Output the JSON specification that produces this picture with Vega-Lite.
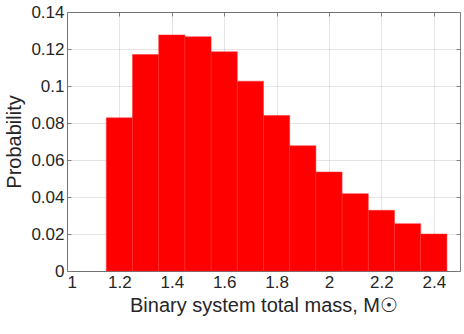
{
  "$schema": "https://vega.github.io/schema/vega-lite/v6.json",
  "width": 393,
  "height": 259,
  "autosize": "none",
  "padding": {"left": 67, "top": 12, "right": 4, "bottom": 63},
  "background": "white",
  "config": {
    "view": {"stroke": "#7f7f7f", "strokeWidth": 1},
    "font": "Liberation Sans",
    "axis": {
      "labelFont": "Liberation Sans",
      "titleFont": "Liberation Sans",
      "labelFontSize": 17,
      "titleFontSize": 20,
      "labelColor": "#262626",
      "titleColor": "#262626",
      "titleFontWeight": "normal",
      "domain": false,
      "tickColor": "#7f7f7f",
      "tickSize": -4,
      "gridColor": "#000000",
      "gridOpacity": 0.1,
      "gridWidth": 1,
      "zindex": 1
    }
  },
  "data": {
    "values": [
      {"lo": 1.15, "hi": 1.25, "p": 0.0828},
      {"lo": 1.25, "hi": 1.35, "p": 0.1170},
      {"lo": 1.35, "hi": 1.45, "p": 0.1276},
      {"lo": 1.45, "hi": 1.55, "p": 0.1266},
      {"lo": 1.55, "hi": 1.65, "p": 0.1185},
      {"lo": 1.65, "hi": 1.75, "p": 0.1026},
      {"lo": 1.75, "hi": 1.85, "p": 0.0840},
      {"lo": 1.85, "hi": 1.95, "p": 0.0677},
      {"lo": 1.95, "hi": 2.05, "p": 0.0535},
      {"lo": 2.05, "hi": 2.15, "p": 0.0418},
      {"lo": 2.15, "hi": 2.25, "p": 0.0328},
      {"lo": 2.25, "hi": 2.35, "p": 0.0256},
      {"lo": 2.35, "hi": 2.45, "p": 0.0200}
    ]
  },
  "layer": [
    {
      "mark": {"type": "bar", "color": "#ff0000", "stroke": "#ff3030", "strokeWidth": 0.5},
      "encoding": {
        "x": {
          "field": "lo", "type": "quantitative",
          "scale": {"domain": [1, 2.5], "nice": false, "zero": false},
          "axis": {"values": [1, 1.2, 1.4, 1.6, 1.8, 2, 2.2, 2.4], "format": "~g", "title": "Binary system total mass, M☉", "labelPadding": 7, "titlePadding": 5, "orient": "bottom"}
        },
        "x2": {"field": "hi"},
        "y": {
          "field": "p", "type": "quantitative",
          "scale": {"domain": [0, 0.14], "nice": false},
          "axis": {"values": [0, 0.02, 0.04, 0.06, 0.08, 0.1, 0.12, 0.14], "format": "~g", "title": "Probability", "labelPadding": 7, "titlePadding": 6, "orient": "left"}
        },
        "y2": {"datum": 0}
      }
    },
    {
      "mark": {"type": "bar", "opacity": 0},
      "encoding": {
        "x": {
          "field": "lo", "type": "quantitative",
          "scale": {"domain": [1, 2.5], "nice": false, "zero": false},
          "axis": {"values": [1, 1.2, 1.4, 1.6, 1.8, 2, 2.2, 2.4], "labels": false, "title": null, "grid": false, "orient": "top"}
        },
        "x2": {"field": "hi"},
        "y": {
          "field": "p", "type": "quantitative",
          "scale": {"domain": [0, 0.14], "nice": false},
          "axis": {"values": [0, 0.02, 0.04, 0.06, 0.08, 0.1, 0.12, 0.14], "labels": false, "title": null, "grid": false, "orient": "right"}
        },
        "y2": {"datum": 0}
      }
    }
  ],
  "resolve": {"axis": {"x": "independent", "y": "independent"}}
}
